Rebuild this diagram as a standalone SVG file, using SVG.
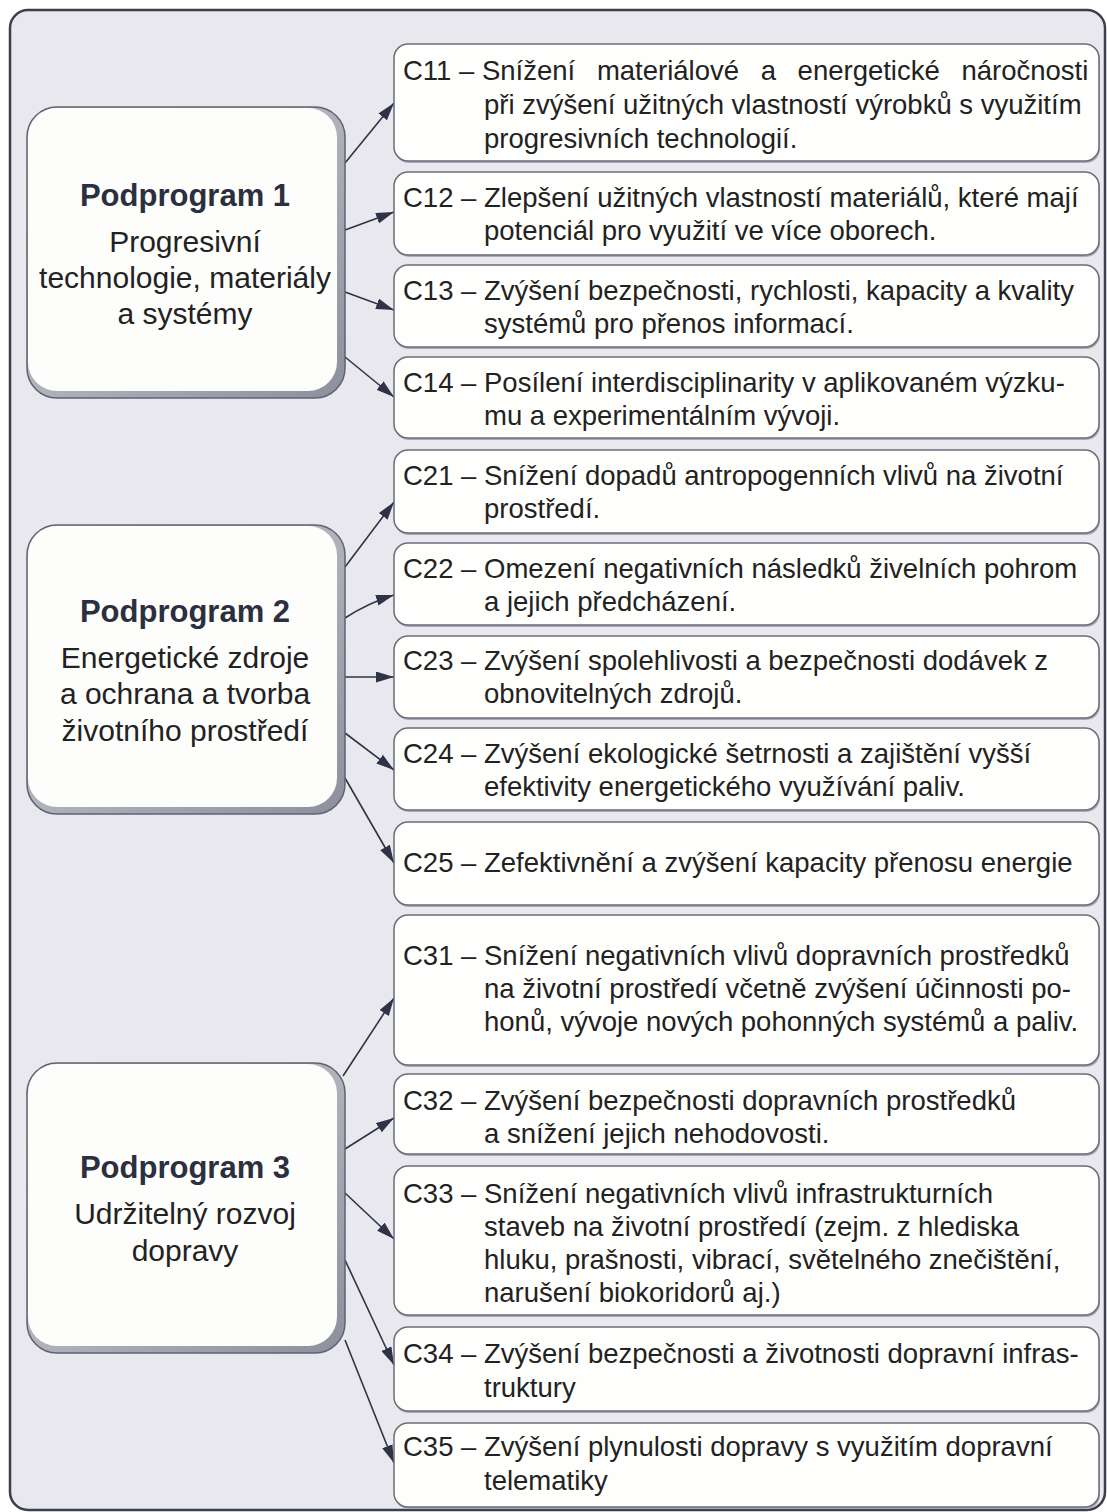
<svg xmlns="http://www.w3.org/2000/svg" width="1107" height="1512" viewBox="0 0 1107 1512">
<defs>
<style>
.frame{fill:#e9e8ef;stroke:#3b3f4e;stroke-width:2.5}
.pshadow{fill:url(#bevel);stroke:#5f6270;stroke-width:1.5}
.pface{fill:#fdfdfb}
.goal{fill:#fefefc;stroke:#6b6e78;stroke-width:1.5}
.gshadow{fill:#a9abb6}
.t{font-family:"Liberation Sans",Arial,sans-serif;font-size:27.5px;fill:#222}
.pt{font-family:"Liberation Sans",Arial,sans-serif;font-size:31px;font-weight:bold;fill:#2b2f3f;text-anchor:middle}
.ps{font-family:"Liberation Sans",Arial,sans-serif;font-size:30px;fill:#222;text-anchor:middle}
.arr{fill:none;stroke:#2e3445;stroke-width:1.6;marker-end:url(#ah)}
</style>
<linearGradient id="bevel" x1="0" y1="0" x2="1" y2="1">
<stop offset="0" stop-color="#d2d3da"/>
<stop offset="1" stop-color="#8d909c"/>
</linearGradient>
<marker id="ah" viewBox="0 0 18 11" refX="18" refY="5.5" markerWidth="18" markerHeight="11" markerUnits="userSpaceOnUse" orient="auto">
<path d="M0,0 L18,5.5 L0,11 Z" fill="#2e3445"/>
</marker>
</defs>
<rect class="frame" x="10" y="10" width="1095" height="1500" rx="18"/>

<g id="connectors">
<path class="arr" d="M345,163 L394,103"/>
<path class="arr" d="M345,230 L394,212"/>
<path class="arr" d="M345,292 L394,310"/>
<path class="arr" d="M345,357 L394,397"/>
<path class="arr" d="M345,567 L394,502"/>
<path class="arr" d="M345,618 Q368,603 394,595"/>
<path class="arr" d="M345,677 L394,677"/>
<path class="arr" d="M345,733 L394,770"/>
<path class="arr" d="M345,778 L394,863"/>
<path class="arr" d="M343,1076 L394,998"/>
<path class="arr" d="M345,1149 L394,1118"/>
<path class="arr" d="M345,1193 L394,1239"/>
<path class="arr" d="M345,1260 L394,1365"/>
<path class="arr" d="M345,1340 L394,1463"/>
</g>

<g id="p1">
<rect class="pshadow" x="27" y="107" width="318" height="291" rx="30"/>
<rect class="pface" x="28" y="108" width="309" height="283" rx="29"/>
<text class="pt" x="185" y="206">Podprogram 1</text>
<text class="ps" x="185" y="252">Progresivní</text>
<text class="ps" x="185" y="288">technologie, materiály</text>
<text class="ps" x="185" y="324">a systémy</text>
</g>
<g id="p2">
<rect class="pshadow" x="27" y="525" width="318" height="289" rx="30"/>
<rect class="pface" x="28" y="526" width="309" height="281" rx="29"/>
<text class="pt" x="185" y="622">Podprogram 2</text>
<text class="ps" x="185" y="668">Energetické zdroje</text>
<text class="ps" x="185" y="704">a ochrana a tvorba</text>
<text class="ps" x="185" y="741">životního prostředí</text>
</g>
<g id="p3">
<rect class="pshadow" x="27" y="1063" width="318" height="290" rx="30"/>
<rect class="pface" x="28" y="1064" width="309" height="282" rx="29"/>
<text class="pt" x="185" y="1178">Podprogram 3</text>
<text class="ps" x="185" y="1224">Udržitelný rozvoj</text>
<text class="ps" x="185" y="1261">dopravy</text>
</g>

<g id="c11">
<rect class="gshadow" x="395" y="46" width="705" height="117" rx="14"/>
<rect class="goal" x="394" y="44" width="705" height="117" rx="14"/>
<text class="t" x="403" y="80">C11 – <tspan word-spacing="14">Snížení materiálové a energetické náročnosti</tspan></text>
<text class="t" x="484" y="114">při zvýšení užitných vlastností výrobků s využitím</text>
<text class="t" x="484" y="148">progresivních technologií.</text>
</g>
<g id="c12">
<rect class="gshadow" x="395" y="174" width="705" height="83" rx="14"/>
<rect class="goal" x="394" y="172" width="705" height="83" rx="14"/>
<text class="t" x="403" y="207">C12 – Zlepšení užitných vlastností materiálů, které mají</text>
<text class="t" x="484" y="240">potenciál pro využití ve více oborech.</text>
</g>
<g id="c13">
<rect class="gshadow" x="395" y="267" width="705" height="82" rx="14"/>
<rect class="goal" x="394" y="265" width="705" height="82" rx="14"/>
<text class="t" x="403" y="300">C13 – Zvýšení bezpečnosti, rychlosti, kapacity a kvality</text>
<text class="t" x="484" y="333">systémů pro přenos informací.</text>
</g>
<g id="c14">
<rect class="gshadow" x="395" y="359" width="705" height="81" rx="14"/>
<rect class="goal" x="394" y="357" width="705" height="81" rx="14"/>
<text class="t" x="403" y="392">C14 – Posílení interdisciplinarity v aplikovaném výzku-</text>
<text class="t" x="484" y="425">mu a experimentálním vývoji.</text>
</g>
<g id="c21">
<rect class="gshadow" x="395" y="452" width="705" height="83" rx="14"/>
<rect class="goal" x="394" y="450" width="705" height="83" rx="14"/>
<text class="t" x="403" y="485">C21 – Snížení dopadů antropogenních vlivů na životní</text>
<text class="t" x="484" y="518">prostředí.</text>
</g>
<g id="c22">
<rect class="gshadow" x="395" y="545" width="705" height="82" rx="14"/>
<rect class="goal" x="394" y="543" width="705" height="82" rx="14"/>
<text class="t" x="403" y="578">C22 – Omezení negativních následků živelních pohrom</text>
<text class="t" x="484" y="611">a jejich předcházení.</text>
</g>
<g id="c23">
<rect class="gshadow" x="395" y="638" width="705" height="82" rx="14"/>
<rect class="goal" x="394" y="636" width="705" height="82" rx="14"/>
<text class="t" x="403" y="670">C23 – Zvýšení spolehlivosti a bezpečnosti dodávek z</text>
<text class="t" x="484" y="703">obnovitelných zdrojů.</text>
</g>
<g id="c24">
<rect class="gshadow" x="395" y="730" width="705" height="82" rx="14"/>
<rect class="goal" x="394" y="728" width="705" height="82" rx="14"/>
<text class="t" x="403" y="763">C24 – Zvýšení ekologické šetrnosti a zajištění vyšší</text>
<text class="t" x="484" y="796">efektivity energetického využívání paliv.</text>
</g>
<g id="c25">
<rect class="gshadow" x="395" y="824" width="705" height="83" rx="14"/>
<rect class="goal" x="394" y="822" width="705" height="83" rx="14"/>
<text class="t" x="403" y="872">C25 – Zefektivnění a zvýšení kapacity přenosu energie</text>
</g>
<g id="c31">
<rect class="gshadow" x="395" y="917" width="705" height="150" rx="14"/>
<rect class="goal" x="394" y="915" width="705" height="150" rx="14"/>
<text class="t" x="403" y="965">C31 – Snížení negativních vlivů dopravních prostředků</text>
<text class="t" x="484" y="998">na životní prostředí včetně zvýšení účinnosti po-</text>
<text class="t" x="484" y="1031">honů, vývoje nových pohonných systémů a paliv.</text>
</g>
<g id="c32">
<rect class="gshadow" x="395" y="1076" width="705" height="80" rx="14"/>
<rect class="goal" x="394" y="1074" width="705" height="80" rx="14"/>
<text class="t" x="403" y="1110">C32 – Zvýšení bezpečnosti dopravních prostředků</text>
<text class="t" x="484" y="1143">a snížení jejich nehodovosti.</text>
</g>
<g id="c33">
<rect class="gshadow" x="395" y="1168" width="705" height="149" rx="14"/>
<rect class="goal" x="394" y="1166" width="705" height="149" rx="14"/>
<text class="t" x="403" y="1203">C33 – Snížení negativních vlivů infrastrukturních</text>
<text class="t" x="484" y="1236">staveb na životní prostředí (zejm. z hlediska</text>
<text class="t" x="484" y="1269">hluku, prašnosti, vibrací, světelného znečištění,</text>
<text class="t" x="484" y="1302">narušení biokoridorů aj.)</text>
</g>
<g id="c34">
<rect class="gshadow" x="395" y="1329" width="705" height="84" rx="14"/>
<rect class="goal" x="394" y="1327" width="705" height="84" rx="14"/>
<text class="t" x="403" y="1363">C34 – Zvýšení bezpečnosti a životnosti dopravní infras-</text>
<text class="t" x="484" y="1397">truktury</text>
</g>
<g id="c35">
<rect class="gshadow" x="395" y="1425" width="705" height="84" rx="14"/>
<rect class="goal" x="394" y="1423" width="705" height="84" rx="14"/>
<text class="t" x="403" y="1456">C35 – Zvýšení plynulosti dopravy s využitím dopravní</text>
<text class="t" x="484" y="1490">telematiky</text>
</g>
</svg>
